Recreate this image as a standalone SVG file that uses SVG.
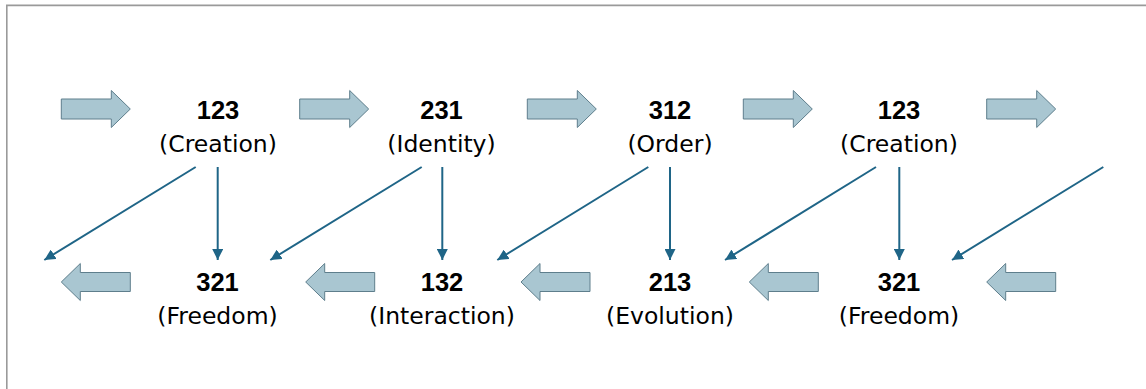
<svg xmlns="http://www.w3.org/2000/svg" width="1146" height="389" viewBox="0 0 1146 389">
<style>
.frame{fill:none;stroke:#9a9a9a;stroke-width:1.6}
.blk{fill:#a9c6d1;stroke:#5e7e8c;stroke-width:1}
.num{font-family:"Liberation Sans",Arial,sans-serif;font-weight:bold;font-size:25.5px;fill:#000;text-anchor:middle}
.lbl{font-family:"DejaVu Sans",sans-serif;font-size:23.5px;fill:#000;text-anchor:middle}
.con{stroke:#1f6587;stroke-width:2;fill:none;marker-end:url(#ah)}
</style>
<defs>
<marker id="ah" markerUnits="userSpaceOnUse" markerWidth="11" markerHeight="11" refX="10" refY="5" orient="auto" viewBox="0 0 10 10">
<path d="M0,0 L10,5 L0,10 Z" fill="#1f6587"/>
</marker>
<path id="rarr" d="M0,-10 H50 V-18.5 L69,0 L50,18.5 V10 H0 Z"/>
<path id="larr" d="M0,0 L19,-18.5 V-9.5 H69 V9.5 H19 V18.5 Z"/>
</defs>
<rect width="1146" height="389" fill="#fff"/>
<path class="frame" d="M6.8,389 V5.4 H1146"/>
<g id="flow-arrows">
<use href="#rarr" class="blk" x="61.3" y="109"/>
<use href="#rarr" class="blk" x="299.7" y="109"/>
<use href="#rarr" class="blk" x="527.3" y="109"/>
<use href="#rarr" class="blk" x="743.3" y="109"/>
<use href="#rarr" class="blk" x="986.7" y="109"/>
<use href="#larr" class="blk" x="61.3" y="282"/>
<use href="#larr" class="blk" x="305.7" y="282"/>
<use href="#larr" class="blk" x="521" y="282"/>
<use href="#larr" class="blk" x="749.3" y="282"/>
<use href="#larr" class="blk" x="986.7" y="282"/>
</g>
<g id="connectors">
<line class="con" x1="195.7" y1="167" x2="44.3" y2="260"/>
<line class="con" x1="217.7" y1="167" x2="217.7" y2="260"/>
<line class="con" x1="421.7" y1="167" x2="270.3" y2="260"/>
<line class="con" x1="442.3" y1="167" x2="442.3" y2="260"/>
<line class="con" x1="648.3" y1="167" x2="497.3" y2="260"/>
<line class="con" x1="670" y1="167" x2="670" y2="260"/>
<line class="con" x1="876" y1="167" x2="725" y2="260"/>
<line class="con" x1="899.3" y1="167" x2="899.3" y2="260"/>
<line class="con" x1="1103.3" y1="167" x2="952" y2="260"/>
</g>
<g id="n-top1"><text class="num" x="218" y="119">123</text><text class="lbl" x="218" y="152">(Creation)</text></g>
<g id="n-top2"><text class="num" x="441.5" y="119">231</text><text class="lbl" x="441.5" y="152">(Identity)</text></g>
<g id="n-top3"><text class="num" x="670" y="119">312</text><text class="lbl" x="670" y="152">(Order)</text></g>
<g id="n-top4"><text class="num" x="899" y="119">123</text><text class="lbl" x="899" y="152">(Creation)</text></g>
<g id="n-bot1"><text class="num" x="217.5" y="291">321</text><text class="lbl" x="217.5" y="324">(Freedom)</text></g>
<g id="n-bot2"><text class="num" x="442" y="291">132</text><text class="lbl" x="442" y="324">(Interaction)</text></g>
<g id="n-bot3"><text class="num" x="670" y="291">213</text><text class="lbl" x="670" y="324">(Evolution)</text></g>
<g id="n-bot4"><text class="num" x="899" y="291">321</text><text class="lbl" x="899" y="324">(Freedom)</text></g>
</svg>
